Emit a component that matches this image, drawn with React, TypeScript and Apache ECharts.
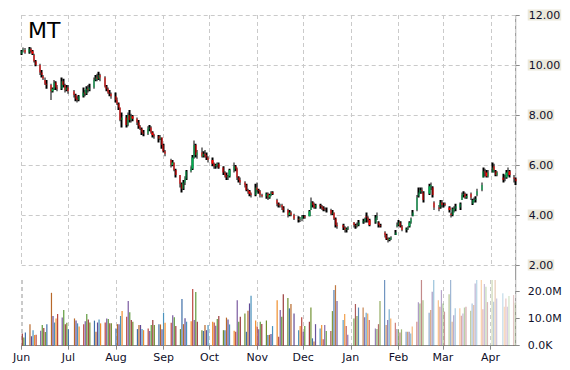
import { useEffect, useRef } from "react";
import * as echarts from "echarts";

const tickerName = "MT";
const monthNames = ["Jan", "Feb", "Mar", "Apr", "May", "Jun", "Jul", "Aug", "Sep", "Oct", "Nov", "Dec"];
const firstDay = "2011-06-01";
const lastDay = "2012-04-17";
const holidays = ["2011-07-04", "2011-09-05", "2011-11-24", "2011-12-26", "2012-01-02", "2012-01-16", "2012-02-20", "2012-04-06"];

const priceMin = 2;
const priceMax = 12;
const priceStep = 2;
const volMax = 24.1; // millions, top of the volume pane
const volStep = 10;

// one entry per trading day, Jun 2011 .. Apr 2012
const opens = [
  10.45, 10.58, 10.6, 10.5, 10.65, 10.55, 10.4, 10.15, 10.0, 9.7, 9.55, 9.4, 9.25, 9.2, 8.95, 9.05, 9.3, 9.1, 9.05, 9.35, 9.2, 9.0,
  9.1, 8.95, 8.8, 8.65, 8.6, 8.75, 8.9, 8.85, 9.05, 9.0, 9.1, 9.4, 9.5, 9.45, 9.6, 9.5, 9.15, 9.05, 8.9, 8.85,
  8.75, 8.6, 8.45, 8.3, 7.8, 7.9, 7.6, 8.0, 7.8, 7.95, 7.85, 7.7, 7.55, 7.45, 7.3, 7.25, 7.45, 7.5, 7.3, 7.2, 7.15, 7.05, 7.1,
  6.8, 6.55, 6.2, 6.0, 6.1, 5.8, 5.6, 5.25, 5.05, 5.3, 5.45, 5.75, 5.85, 6.3, 6.8, 6.4, 6.5, 6.35, 6.45, 6.4, 6.3,
  6.2, 6.05, 5.95, 6.0, 6.05, 5.9, 5.7, 5.6, 5.5, 5.55, 5.8, 5.95, 5.85, 5.5, 5.4, 5.3, 5.2, 5.0, 4.95, 4.85, 4.8,
  5.1, 5.0, 4.95, 4.8, 4.75, 4.85, 4.7, 4.8, 4.9, 4.6, 4.45, 4.38, 4.4, 4.3, 4.2, 4.0, 4.1, 4.0, 3.85, 3.8, 3.85,
  3.95, 3.95, 3.95, 4.2, 4.5, 4.4, 4.3, 4.4, 4.35, 4.3, 4.22, 4.2, 4.2, 4.05, 4.1, 3.85, 3.6, 3.6, 3.5, 3.4, 3.45,
  3.7, 3.6, 3.55, 3.6, 3.7, 3.75, 3.95, 3.9, 3.8, 3.7, 3.9, 3.7, 3.6, 3.3, 3.2, 3.05, 3.0, 3.05, 3.2, 3.55,
  3.6, 3.7, 3.55, 3.4, 3.45, 3.55, 3.7, 3.95, 4.2, 4.75, 4.9, 5.0, 4.9, 4.85, 5.15, 5.1, 4.5, 4.3, 4.3, 4.5,
  4.4, 4.45, 4.3, 4.05, 4.0, 4.2, 4.25, 4.3, 4.6, 4.8, 4.85, 4.7, 4.85, 4.45, 4.55, 4.6, 4.8, 5.0, 5.5, 5.75, 5.7, 5.55,
  5.7, 5.95, 5.75, 5.6, 5.5, 5.45, 5.5, 5.7, 5.75, 5.5, 5.45,
];
const closes = [
  10.55, 10.62, 10.5, 10.65, 10.55, 10.45, 10.15, 10.0, 9.7, 9.6, 9.45, 9.25, 9.2, 8.95, 9.05, 9.3, 9.1, 9.05, 9.35, 9.2, 9.0, 9.1,
  8.95, 8.8, 8.65, 8.6, 8.75, 8.9, 8.85, 9.05, 9.0, 9.1, 9.4, 9.5, 9.45, 9.6, 9.5, 9.15, 9.05, 8.9, 8.85, 8.75,
  8.6, 8.45, 8.3, 7.8, 7.9, 7.6, 8.0, 7.8, 7.95, 7.85, 7.7, 7.55, 7.45, 7.3, 7.25, 7.45, 7.5, 7.3, 7.2, 7.15, 7.05, 7.1, 6.8,
  6.55, 6.45, 6.0, 6.1, 5.8, 5.6, 5.25, 5.05, 5.3, 5.45, 5.75, 5.85, 6.3, 6.8, 6.4, 6.5, 6.35, 6.45, 6.4, 6.3, 6.2,
  6.05, 5.95, 6.0, 6.05, 5.9, 5.7, 5.6, 5.5, 5.55, 5.8, 5.95, 5.85, 5.5, 5.4, 5.3, 5.2, 5.0, 4.95, 4.85, 4.8, 5.1,
  5.0, 4.95, 4.8, 4.75, 4.85, 4.7, 4.8, 4.9, 4.85, 4.45, 4.38, 4.4, 4.3, 4.2, 4.0, 4.1, 4.0, 3.85, 3.8, 3.85, 3.95,
  3.95, 3.9, 4.15, 4.5, 4.4, 4.3, 4.4, 4.35, 4.3, 4.22, 4.2, 4.2, 4.05, 4.1, 3.85, 3.6, 3.55, 3.5, 3.4, 3.45, 3.5,
  3.6, 3.55, 3.6, 3.7, 3.75, 3.85, 3.9, 3.8, 3.6, 3.9, 3.95, 3.6, 3.55, 3.2, 3.05, 3.0, 3.05, 3.1, 3.3, 3.6,
  3.7, 3.55, 3.4, 3.45, 3.5, 3.7, 3.85, 4.1, 4.7, 4.9, 5.0, 4.95, 4.6, 5.15, 5.2, 4.8, 4.3, 4.25, 4.5, 4.4,
  4.4, 4.4, 4.2, 4.0, 4.25, 4.25, 4.35, 4.45, 4.8, 4.85, 4.7, 4.75, 4.7, 4.6, 4.6, 4.65, 4.95, 5.2, 5.75, 5.7, 5.55, 5.7,
  5.9, 5.8, 5.6, 5.7, 5.4, 5.45, 5.7, 5.75, 5.6, 5.45, 5.35,
];
const lows = [
  10.4, 10.5, 10.45, 10.45, 10.5, 10.4, 10.1, 9.95, 9.6, 9.5, 9.4, 9.2, 9.05, 8.6, 8.9, 9.0, 9.0, 8.95, 9.0, 9.1, 8.9, 8.95,
  8.85, 8.7, 8.55, 8.5, 8.55, 8.7, 8.75, 8.8, 8.9, 8.95, 9.05, 9.35, 9.35, 9.4, 9.35, 9.1, 8.95, 8.85, 8.75, 8.65,
  8.5, 8.4, 8.2, 7.75, 7.5, 7.5, 7.55, 7.7, 7.7, 7.75, 7.6, 7.45, 7.4, 7.2, 7.15, 7.2, 7.35, 7.25, 7.1, 7.05, 6.9, 7.0, 6.65,
  6.5, 6.35, 5.9, 5.95, 5.75, 5.5, 5.1, 4.9, 5.0, 5.2, 5.4, 5.7, 5.8, 6.25, 6.3, 6.25, 6.3, 6.3, 6.3, 6.2, 6.1,
  5.95, 5.85, 5.85, 5.9, 5.85, 5.6, 5.5, 5.4, 5.4, 5.5, 5.7, 5.75, 5.4, 5.3, 5.2, 5.1, 4.95, 4.85, 4.75, 4.7, 4.75,
  4.9, 4.85, 4.7, 4.7, 4.65, 4.6, 4.65, 4.75, 4.8, 4.35, 4.3, 4.3, 4.2, 4.1, 3.9, 3.95, 3.95, 3.8, 3.7, 3.72, 3.75,
  3.85, 3.85, 3.95, 4.2, 4.3, 4.25, 4.25, 4.25, 4.2, 4.15, 4.15, 4.1, 4.0, 4.0, 3.8, 3.5, 3.45, 3.4, 3.3, 3.3, 3.4,
  3.5, 3.45, 3.5, 3.55, 3.65, 3.7, 3.7, 3.7, 3.55, 3.65, 3.8, 3.5, 3.5, 3.1, 3.0, 2.9, 2.95, 3.0, 3.2, 3.5,
  3.55, 3.5, 3.35, 3.3, 3.4, 3.5, 3.65, 3.95, 4.15, 4.7, 4.85, 4.85, 4.5, 4.8, 5.0, 4.7, 4.2, 4.15, 4.25, 4.3,
  4.3, 4.35, 4.1, 3.9, 3.95, 4.1, 4.15, 4.2, 4.6, 4.7, 4.65, 4.65, 4.6, 4.4, 4.5, 4.5, 4.75, 4.95, 5.5, 5.55, 5.5, 5.5,
  5.7, 5.7, 5.55, 5.55, 5.3, 5.35, 5.45, 5.55, 5.5, 5.3, 5.2,
];
const highs = [
  10.6, 10.7, 10.68, 10.72, 10.7, 10.6, 10.45, 10.2, 10.05, 9.8, 9.6, 9.5, 9.4, 9.25, 9.1, 9.4, 9.35, 9.2, 9.5, 9.45, 9.25, 9.2,
  9.2, 9.0, 8.85, 8.75, 8.8, 9.1, 9.0, 9.15, 9.2, 9.25, 9.5, 9.6, 9.65, 9.73, 9.65, 9.55, 9.2, 9.1, 9.0, 8.9,
  8.9, 8.7, 8.5, 8.3, 8.1, 8.0, 8.1, 8.2, 8.05, 8.0, 7.9, 7.8, 7.6, 7.5, 7.4, 7.55, 7.6, 7.55, 7.35, 7.25, 7.2, 7.2, 7.1,
  6.85, 6.6, 6.25, 6.2, 6.1, 5.85, 5.6, 5.3, 5.4, 5.55, 5.8, 5.95, 6.4, 6.98, 6.85, 6.6, 6.7, 6.55, 6.6, 6.5, 6.35,
  6.3, 6.1, 6.05, 6.1, 6.1, 5.95, 5.75, 5.7, 5.6, 5.85, 6.1, 6.0, 5.9, 5.55, 5.5, 5.35, 5.25, 5.05, 5.0, 4.9, 5.25,
  5.3, 5.05, 5.0, 4.85, 4.9, 4.9, 4.85, 4.95, 4.95, 4.65, 4.5, 4.45, 4.45, 4.35, 4.25, 4.2, 4.15, 4.05, 3.95, 3.92, 4.0,
  4.0, 4.0, 4.2, 4.7, 4.55, 4.5, 4.45, 4.45, 4.4, 4.35, 4.3, 4.3, 4.25, 4.2, 4.1, 3.9, 3.7, 3.65, 3.55, 3.5, 3.55,
  3.72, 3.65, 3.7, 3.8, 3.85, 3.9, 4.1, 3.95, 3.85, 4.0, 4.1, 3.75, 3.65, 3.35, 3.25, 3.1, 3.1, 3.15, 3.4, 3.7,
  3.8, 3.75, 3.6, 3.5, 3.55, 3.75, 3.9, 4.2, 4.8, 5.1, 5.1, 5.1, 4.95, 5.25, 5.3, 5.15, 4.55, 4.4, 4.6, 4.6,
  4.5, 4.5, 4.35, 4.1, 4.3, 4.35, 4.45, 4.5, 4.9, 4.95, 4.9, 4.85, 4.9, 4.65, 4.7, 4.75, 5.05, 5.3, 5.9, 5.85, 5.8, 5.8,
  6.1, 6.05, 5.8, 5.75, 5.65, 5.6, 5.8, 5.9, 5.8, 5.6, 5.5,
];
// millions of shares
const volumes = [
  4.5, 3.0, 4.8, 7.9, 3.5, 5.7, 3.9, 4.0, 5.5, 7.6, 6.5, 5.0, 7.9, 19.4, 10.9, 8.5, 10.0, 11.6, 10.3, 13.1, 7.9, 8.4,
  6.0, 10.0, 9.2, 8.2, 7.0, 7.9, 9.0, 11.6, 9.6, 8.5, 9.2, 5.1, 8.5, 9.6, 8.2, 8.5, 10.0, 9.8, 8.2, 8.2,
  6.3, 7.9, 7.9, 10.9, 12.7, 10.6, 16.4, 12.3, 9.4, 8.8, 6.1, 7.6, 7.6, 6.1, 5.7, 6.3, 5.4, 7.6, 9.4, 7.6, 7.9, 7.8, 6.0,
  12.1, 8.4, 8.4, 11.2, 10.4, 7.2, 6.1, 17.1, 7.9, 10.1, 8.8, 9.0, 20.8, 9.4, 19.7, 8.8, 5.7, 5.4, 7.6, 5.7, 7.6,
  8.8, 8.5, 7.3, 9.8, 10.9, 5.7, 5.7, 10.3, 9.6, 7.8, 5.5, 5.1, 16.7, 8.8, 10.6, 11.8, 5.1, 12.8, 15.5, 18.3, 9.2,
  7.0, 6.0, 8.8, 8.0, 9.2, 3.9, 4.0, 4.3, 7.2, 16.7, 3.3, 13.1, 10.6, 18.9, 17.5, 13.7, 15.3, 11.8, 5.7, 7.2, 10.4,
  5.1, 7.2, 8.8, 14.0, 2.7, 1.5, 7.9, 6.3, 7.6, 2.4, 7.6, 5.4, 5.4, 12.7, 20.4, 22.2, 16.4, 9.4, 11.6, 7.2, 4.0,
  10.0, 15.3, 10.9, 14.0, 14.0, 10.4, 12.1, 11.8, 9.4, 6.3, 6.1, 7.9, 16.4, 26.0, 7.6, 9.4, 13.4, 10.0, 8.4, 6.1,
  6.0, 4.8, 6.0, 5.1, 5.1, 5.1, 4.5, 7.0, 8.8, 15.9, 15.5, 27.0, 16.7, 12.1, 13.1, 19.8, 25.5, 16.7, 14.3, 20.4,
  15.5, 12.5, 18.9, 26.5, 8.8, 11.2, 13.7, 13.7, 11.0, 11.8, 14.0, 14.3, 12.8, 15.5, 14.9, 22.8, 25.0, 26.0, 13.4, 22.6, 21.6, 16.0,
  25.5, 16.1, 26.0, 17.3, 19.2, 14.3, 17.3, 14.3, 18.2, 18.6, 15.8,
];
const volumePalette = ["#9b3a3a", "#6f8f2e", "#3d6ea8", "#b8682a", "#614a95", "#4a92bd", "#ef8e2c", "#b9473f", "#7a5aa0", "#5f9a3c"];

const FONT = "'DejaVu Sans', Verdana, sans-serif";
const GRID_LINE = { color: "#cacaca", type: [4, 3] as number[], width: 1 };

function parseDay(s: string): Date {
  const [y, m, d] = s.split("-").map(Number);
  return new Date(y, m - 1, d);
}
function dayKey(d: Date): string {
  const mm = String(d.getMonth() + 1).padStart(2, "0");
  const dd = String(d.getDate()).padStart(2, "0");
  return `${d.getFullYear()}-${mm}-${dd}`;
}
function tradingDays(): number[] {
  const out: number[] = [];
  const end = parseDay(lastDay).getTime();
  for (let d = parseDay(firstDay); d.getTime() <= end; d = new Date(d.getFullYear(), d.getMonth(), d.getDate() + 1)) {
    const wd = d.getDay();
    if (wd === 0 || wd === 6) continue;
    if (holidays.includes(dayKey(d))) continue;
    out.push(d.getTime());
  }
  return out;
}

export default function App() {
  const ref = useRef<HTMLDivElement>(null);
  useEffect(() => {
    if (!ref.current) return;
    const chart = echarts.init(ref.current, undefined, { renderer: "svg" });
    const days = tradingDays();
    const n = Math.min(days.length, opens.length, closes.length, lows.length, highs.length, volumes.length);
    const wicks: any[] = [];
    const bodies: any[] = [];
    const vols: any[] = [];
    const fadeStart = 128;
    for (let i = 0; i < n; i++) {
      const t = days[i];
      wicks.push([t, lows[i], highs[i], lows[i], highs[i]]);
      const o = opens[i];
      const c = closes[i];
      bodies.push([t, o, c, Math.min(o, c), Math.max(o, c)]);
      const op = i < fadeStart ? 1 : 1 - 0.72 * (i - fadeStart) / (n - 1 - fadeStart);
      vols.push({
        value: [t, volumes[i]],
        itemStyle: { color: volumePalette[i % volumePalette.length], opacity: op },
      });
    }
    const xMin = parseDay(firstDay).getTime();
    const xMax = parseDay(lastDay).getTime();
    const DAY = 86400000;
    const left = 21.7;
    const right = 570 - 515.7;
    const monthLabel = (v: number) => monthNames[new Date(v + DAY / 2).getMonth()];

    const baseX = {
      type: "time" as const,
      min: xMin,
      max: xMax,
      minInterval: 28 * DAY,
      maxInterval: 31 * DAY,
      splitNumber: 11,
      splitLine: { show: true, lineStyle: GRID_LINE },
    };

    chart.setOption({
      animation: false,
      title: {
        text: tickerName,
        left: 28,
        top: 19,
        padding: 0,
        textStyle: { fontFamily: FONT, fontSize: 22, fontWeight: "normal", color: "#000" },
      },
      grid: [
        { left, right, top: 15, height: 250 },
        { left, right, top: 280, height: 65.7 },
      ],
      xAxis: [
        {
          ...baseX,
          gridIndex: 0,
          axisLine: { show: false },
          axisTick: { show: false },
          axisLabel: { show: false },
        },
        {
          ...baseX,
          gridIndex: 1,
          axisLine: { show: true, lineStyle: { color: "#8a8a8a", width: 1 } },
          axisTick: { show: true, length: 4, lineStyle: { color: "#8a8a8a" } },
          axisLabel: {
            formatter: monthLabel,
            fontFamily: FONT,
            fontSize: 11,
            color: "#10102a",
            margin: 6,
            showMinLabel: true,
            showMaxLabel: false,
          },
        },
      ],
      yAxis: [
        {
          type: "value",
          gridIndex: 0,
          position: "right",
          min: priceMin,
          max: priceMax,
          interval: priceStep,
          axisLine: { show: false },
          axisTick: { show: true, length: 4, lineStyle: { color: "#8a8a8a" } },
          splitLine: { show: true, lineStyle: GRID_LINE },
          axisLabel: {
            formatter: (v: number) => v.toFixed(2),
            fontFamily: FONT,
            fontSize: 11,
            color: "#10102a",
            backgroundColor: "#ebe9dc",
            padding: [0, 1, 0, 1],
            lineHeight: 11,
            margin: 12,
          },
        },
        {
          type: "value",
          gridIndex: 1,
          position: "right",
          min: 0,
          max: volMax,
          interval: volStep,
          axisLine: { show: false },
          axisTick: { show: true, length: 4, lineStyle: { color: "#8a8a8a" } },
          splitLine: { show: false },
          axisLabel: {
            formatter: (v: number) => (v === 0 ? "0.0K" : Math.abs(v % volStep) < 1e-9 ? v.toFixed(1) + "M" : ""),
            fontFamily: FONT,
            fontSize: 11,
            color: "#10102a",
            margin: 12,
            showMaxLabel: false,
          },
        },
      ],
      graphic: [
        {
          type: "line",
          shape: { x1: 515.7, y1: 15, x2: 515.7, y2: 346 },
          style: { stroke: "#8a8a8a", lineWidth: 1 },
          silent: true,
        },
      ],
      series: [
        {
          type: "candlestick",
          xAxisIndex: 0,
          yAxisIndex: 0,
          data: wicks,
          barWidth: 2,
          itemStyle: { color: "#000", color0: "#000", borderColor: "#000", borderColor0: "#000", borderWidth: 0 },
        },
        {
          type: "candlestick",
          xAxisIndex: 0,
          yAxisIndex: 0,
          data: bodies,
          barWidth: 1.6,
          itemStyle: {
            color: "#00b050",
            color0: "#ff0000",
            borderColor: "#00b050",
            borderColor0: "#ff0000",
            borderWidth: 0,
          },
        },
        {
          type: "bar",
          xAxisIndex: 1,
          yAxisIndex: 1,
          data: vols,
          barWidth: 1.2,
        },
      ],
    });
    return () => chart.dispose();
  }, []);
  return <div ref={ref} style={{ width: 570, height: 370, position: "absolute", left: 0, top: 0 }} />;
}
